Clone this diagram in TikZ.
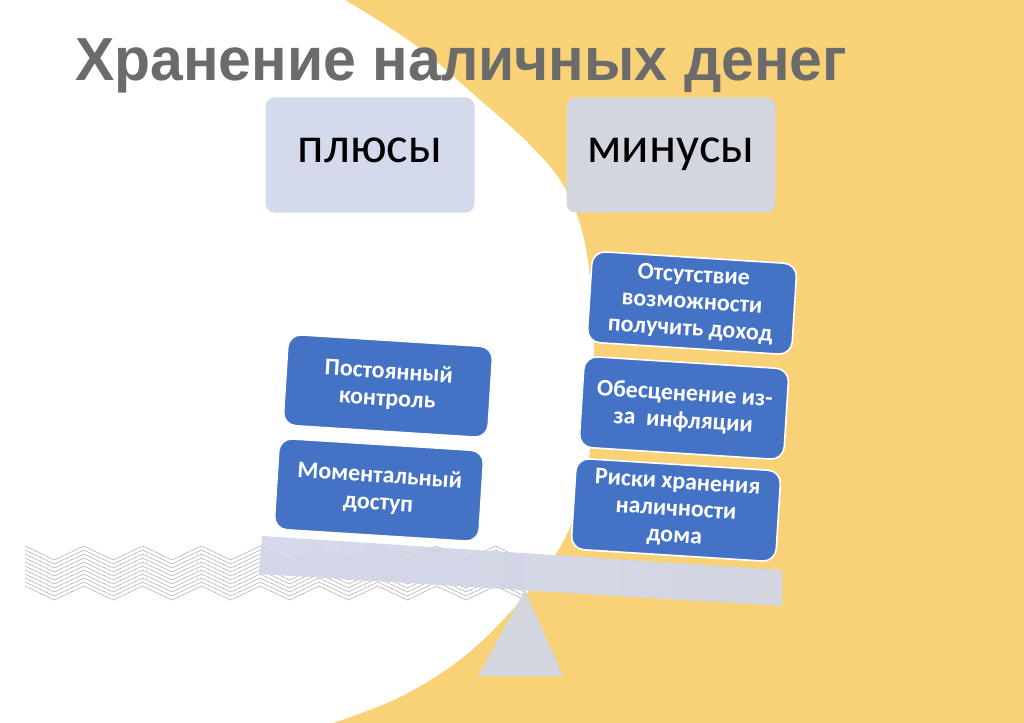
\documentclass[tikz,border=0pt]{standalone}
\usepackage{fontspec}
\setmainfont{Carlito}
\newfontfamily\titlefont{Liberation Sans}
\definecolor{bgyellow}{HTML}{F9D277}
\definecolor{titlegray}{HTML}{6B6B6B}
\definecolor{plusfill}{HTML}{D5D9EC}
\definecolor{minusfill}{HTML}{D3D5DF}
\definecolor{bluebox}{HTML}{4472C4}
\definecolor{beamleft}{HTML}{D5D9EC}
\definecolor{beamright}{HTML}{D3D5DF}
\definecolor{zzgray}{HTML}{AAAAAA}
\tikzset{
  headbox/.style={rounded corners=9bp, minimum width=209bp, minimum height=115bp,
    inner sep=0pt, text height=26bp, text depth=10bp,
    font=\fontsize{51}{55}\selectfont, text=black},
  itembox/.style={draw=white, line width=1.6bp, fill=bluebox, rounded corners=13bp,
    minimum width=205bp, minimum height=91bp, inner sep=2bp, rotate=-3.6,
    align=center, text=white, font=\bfseries\fontsize{24}{27}\selectfont},
  zz/.style={draw=zzgray, line width=0.5bp},
}
\begin{document}
\begin{tikzpicture}[x=1bp,y=-1bp]
\useasboundingbox (0,0) rectangle (1024,723);
% background
\fill[bgyellow] (0,0) rectangle (1024,723);
\fill[white] (0,0) -- plot[smooth, tension=0.6] coordinates {(345,0) (415,45) (480,100) (530,145) (563,185) (583,235) (592,300) (594,380) (590,450) (576,512) (552,560) (512,610) (462,658) (400,697) (333,723)} -- (0,723) -- cycle;
% zigzag lines
\foreach \i in {0,...,10}{
  \draw[zz] (25,{546+4*\i}) \foreach \k in {1,...,17}{ -- ({25+29.4*\k},{546+4*\i+14*mod(\k,2)}) };
}
% title
\node[anchor=base west, inner sep=0pt, text=titlegray] (title) at (75,81)
  {\titlefont\bfseries\fontsize{61}{64}\selectfont\scalebox{0.97}[1]{Хранение наличных денег}};
% headers
\node[headbox, fill=plusfill] (plus) at (370,155) {плюсы};
\node[headbox, fill=minusfill] (minus) at (671,155) {минусы};
% fulcrum
\fill[beamright] (525,590) -- (563,676) -- (478,676) -- cycle;
% items
\node[itembox] (p1) at (388,386) {Постоянный\\контроль};
\node[itembox] (p2) at (379,490) {Моментальный\\доступ};
\node[itembox] (m1) at (692,303) {Отсутствие\\возможности\\получить доход};
\node[itembox] (m2) at (684,408) {Обесценение из-\\за\ \ инфляции};
\node[itembox] (m3) at (676,510) {Риски хранения\\наличности\\дома};
% beam
\path[left color=beamleft, right color=beamright, middle color=beamleft!60!beamright]
  (262,536) -- (782,570) -- (782,606) -- (259,574) -- cycle;
\begin{scope}
  \clip (262,536) -- (782,570) -- (782,606) -- (259,574) -- cycle;
  \foreach \i in {0,...,10}{
    \draw[zz, draw opacity=0.2] (25,{546+4*\i}) \foreach \k in {1,...,17}{ -- ({25+29.4*\k},{546+4*\i+14*mod(\k,2)}) };
  }
\end{scope}
\end{tikzpicture}
\end{document}
